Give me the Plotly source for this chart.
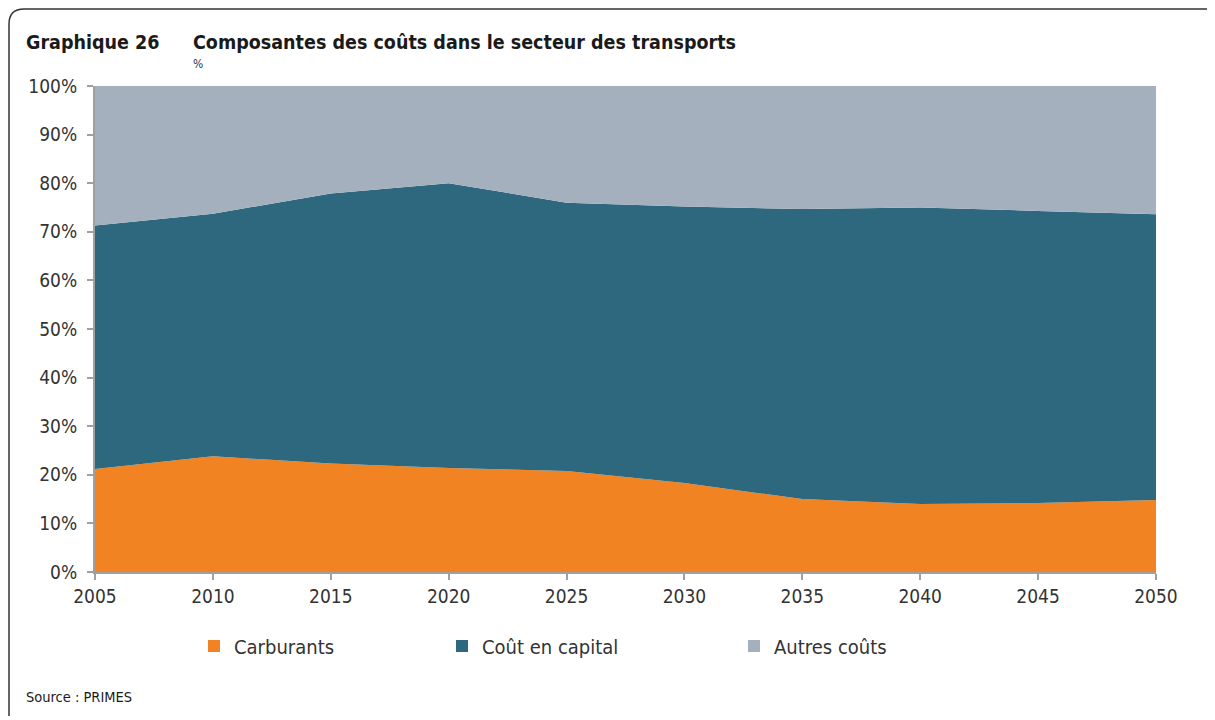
import plotly.graph_objects as go

years = [2005, 2010, 2015, 2020, 2025, 2030, 2035, 2040, 2045, 2050]
carburants = [21.2, 23.8, 22.3, 21.4, 20.8, 18.3, 15.0, 14.0, 14.2, 14.8]
cout_capital = [50.1, 49.9, 55.6, 58.6, 55.2, 56.9, 59.7, 61.0, 60.1, 58.8]
autres_couts = [28.7, 26.3, 22.1, 20.0, 24.0, 24.8, 25.3, 25.0, 25.7, 26.4]
series_names = ["Carburants", "Coût en capital", "Autres coûts"]
series_colors = ["#F28322", "#2E687E", "#A5B0BE"]
y_ticks = [0, 10, 20, 30, 40, 50, 60, 70, 80, 90, 100]
y_tick_labels = [f"{v}%" for v in y_ticks]

W, H = 1215, 720
OFF = 8  # page offset of the figure in the screenshot
PW, PH = 1061, 486
L, T = 95 - OFF, 86 - OFF
R = W - L - PW
B = H - T - PH

def X(px):
    return (px - OFF - L) / PW

def Y(py):
    return (T + PH - (py - OFF)) / PH

FONT = "DejaVu Sans Condensed, Liberation Sans Narrow, Arial Narrow, DejaVu Sans, sans-serif"

fig = go.Figure()
for name, vals, col in zip(series_names, [carburants, cout_capital, autres_couts], series_colors):
    fig.add_trace(go.Scatter(
        x=years, y=vals, name=name, stackgroup="one", mode="lines",
        line=dict(width=0, color=col), fillcolor=col, showlegend=False,
        hovertemplate="%{x}: %{y:.1f}%<extra>" + name + "</extra>",
    ))

legend_pos = [210, 458, 750]
for i, (name, col) in enumerate(zip(series_names, series_colors)):
    lg = "legend" if i == 0 else f"legend{i+1}"
    fig.add_trace(go.Scatter(
        x=[None], y=[None], mode="markers", name=name,
        marker=dict(symbol="square", size=11, color=col),
        showlegend=True, legend=lg,
    ))

legend_common = dict(
    orientation="h", xanchor="left", yanchor="middle",
    font=dict(family=FONT, size=20, color="#333333"),
    bgcolor="rgba(0,0,0,0)", borderwidth=0, itemsizing="constant",
)
layout_legends = {}
for i, px in enumerate(legend_pos):
    lg = "legend" if i == 0 else f"legend{i+1}"
    layout_legends[lg] = dict(legend_common, x=X(px - 16), y=Y(646), xref="paper", yref="paper")

fig.update_layout(
    width=W, height=H,
    margin=dict(l=L, r=R, t=T, b=B, pad=0),
    paper_bgcolor="white", plot_bgcolor="white",
    font=dict(family=FONT, color="#333333"),
    **layout_legends,
    xaxis=dict(
        range=[2005, 2050], tickmode="array", tickvals=years,
        ticktext=[str(y) for y in years],
        showgrid=False, zeroline=False, showline=True, linecolor="#A0A0A0", linewidth=2,
        ticks="outside", ticklen=6, tickwidth=2, tickcolor="#A0A0A0",
        tickfont=dict(family=FONT, size=19, color="#333333"),
        fixedrange=True,
    ),
    yaxis=dict(
        range=[0, 100], tickmode="array", tickvals=y_ticks, ticktext=y_tick_labels,
        showgrid=False, zeroline=False, showline=True, linecolor="#A0A0A0", linewidth=2,
        ticks="outside", ticklen=6, tickwidth=2, tickcolor="#A0A0A0",
        tickfont=dict(family=FONT, size=19, color="#333333"),
        ticklabelstandoff=6, fixedrange=True,
    ),
    annotations=[
        dict(text="<b>Graphique 26</b>", x=X(24), y=Y(43), xref="paper", yref="paper",
             xanchor="left", yanchor="middle", showarrow=False,
             font=dict(family=FONT, size=19.5, color="#1a1a1a")),
        dict(text="<b>Composantes des coûts dans le secteur des transports</b>", x=X(191), y=Y(43),
             xref="paper", yref="paper", xanchor="left", yanchor="middle", showarrow=False,
             font=dict(family=FONT, size=19.5, color="#1a1a1a")),
        dict(text="%", x=X(191), y=Y(64), xref="paper", yref="paper",
             xanchor="left", yanchor="middle", showarrow=False,
             font=dict(family=FONT, size=12, color="#333333")),
        dict(text="Source : PRIMES", x=X(24), y=Y(697), xref="paper", yref="paper",
             xanchor="left", yanchor="middle", showarrow=False,
             font=dict(family=FONT, size=14.5, color="#1a1a1a")),
    ],
)

path = (f"M {X(9)},{Y(716)} L {X(9)},{Y(24)} Q {X(9)},{Y(9)} {X(24)},{Y(9)} "
        f"L {X(1205)},{Y(9)} Q {X(1213)},{Y(9)} {X(1216)},{Y(14)}")
fig.add_shape(type="path", path=path, xref="paper", yref="paper",
              line=dict(color="#333333", width=1.5), layer="above")

fig.write_html("out.html")
